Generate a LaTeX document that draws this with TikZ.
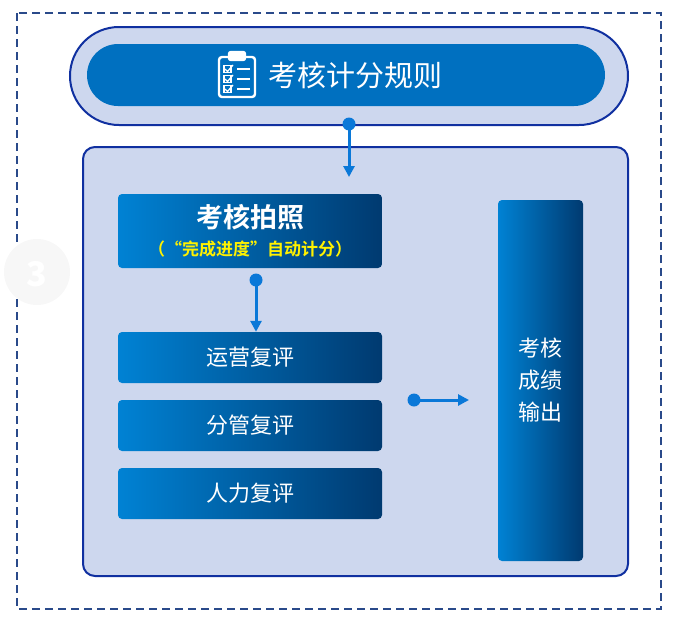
\documentclass[tikz,border=0pt]{standalone}
\usepackage{fontspec}
\setmainfont{Noto Sans CJK SC}
\newfontfamily\cjkbold{Noto Sans CJK SC Bold}
\definecolor{frameblue}{HTML}{2A4A8A}
\definecolor{edgeblue}{HTML}{1030A0}
\definecolor{paleblue}{HTML}{CDD7EE}
\definecolor{midblue}{HTML}{0070C0}
\definecolor{lightend}{HTML}{0082D4}
\definecolor{darkend}{HTML}{003A70}
\definecolor{linkblue}{HTML}{0A78D8}
\usetikzlibrary{arrows.meta}
\tikzset{
  stage/.style={rectangle, rounded corners=4pt, left color=lightend, right color=darkend,
    text=white, align=center, font=\fontsize{22}{32}\selectfont},
  link/.style={-{Triangle[length=11pt,width=11pt]}, line width=3pt, linkblue},
  dot/.style={circle, fill=linkblue, inner sep=0pt, minimum size=13pt}
}
\begin{document}
\begin{tikzpicture}[x=1pt,y=-1pt]
\useasboundingbox (0,0) rectangle (678,624);
\draw[frameblue, line width=1.6pt, dash pattern=on 8pt off 5pt] (17,13) rectangle (661,609);
\fill[gray!6] (37,272) circle (33);
\node[text=white, font=\fontsize{34}{34}\selectfont\bfseries] at (37,274) {3};
% top rule bar
\draw[edgeblue, fill=paleblue, line width=2pt, rounded corners=49pt] (70,27) rectangle (628,125);
\node (rule) [fill=midblue, rounded corners=31pt, minimum width=518pt, minimum height=62pt] at (346,75) {};
\node [text=white, font=\fontsize{29}{32}\selectfont] at (355,75) {考核计分规则};
% clipboard icon
\begin{scope}[white, line width=2.4pt]
\draw[rounded corners=3pt] (219,57) rectangle (255,97);
\draw[fill=white, rounded corners=2pt] (229,52) rectangle (245,60);
\foreach \y in {69,79,89} {
  \draw[line width=1.3pt] (224,\y-3.5) rectangle (231,\y+3.5);
  \draw[line width=1.3pt] (225,\y) -- (227.5,\y+2.5) -- (233,\y-4);
  \draw (237,\y) -- (250,\y);
}
\end{scope}
% main panel
\draw[edgeblue, fill=paleblue, line width=2pt, rounded corners=12pt] (83,147) rectangle (628,576);
\node (snap) [stage, minimum width=264pt, minimum height=74pt] at (250,231) {};
\node [text=white, font=\cjkbold\fontsize{27}{30}\selectfont] at (250,217) {考核拍照};
\node [text=yellow, font=\cjkbold\fontsize{17}{20}\selectfont] at (250,249) {（“完成进度”自动计分）};
\node (ops) [stage, minimum width=264pt, minimum height=51pt] at (250,357.5) {运营复评};
\node (mgr) [stage, minimum width=264pt, minimum height=51pt] at (250,425.5) {分管复评};
\node (hr) [stage, minimum width=264pt, minimum height=51pt] at (250,493.5) {人力复评};
\node (out) [stage, minimum width=85pt, minimum height=361pt] at (540.5,380.5) {考核\\成绩\\输出};
% connectors
\coordinate (d1) at (349,124);
\coordinate (d2) at (256,280);
\coordinate (d3) at (414,400);
\node[dot] at (d1) {};
\node[dot] at (d2) {};
\node[dot] at (d3) {};
\draw[link] (d1) -- (349,177);
\draw[link] (d2) -- (ops.north -| d2);
\draw[link] (d3) -- (469,400);
\end{tikzpicture}
\end{document}
